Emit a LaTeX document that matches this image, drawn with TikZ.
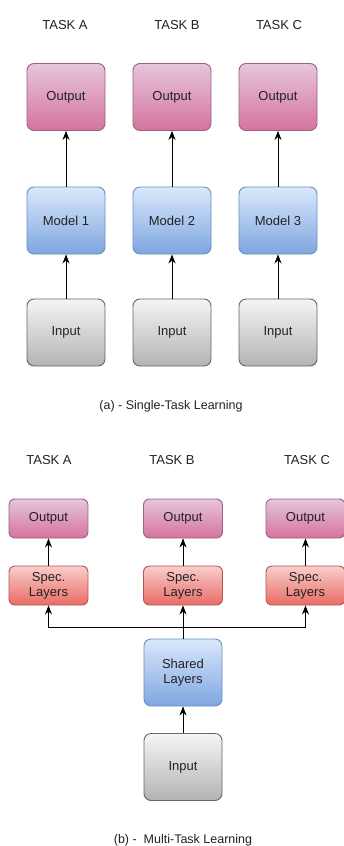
\documentclass[tikz,border=0pt]{standalone}
\usepackage{fontspec}
\setmainfont{Liberation Sans}
\usetikzlibrary{arrows.meta}
\definecolor{outTop}{HTML}{E6C6DA}
\definecolor{outBot}{HTML}{D5739D}
\definecolor{outLine}{HTML}{996185}
\definecolor{modTop}{HTML}{DAE8FC}
\definecolor{modBot}{HTML}{7EA6E0}
\definecolor{modLine}{HTML}{6C8EBF}
\definecolor{inTop}{HTML}{F5F5F5}
\definecolor{inBot}{HTML}{B3B3B3}
\definecolor{inLine}{HTML}{666666}
\definecolor{spTop}{HTML}{F8CECC}
\definecolor{spBot}{HTML}{EA6B66}
\definecolor{spLine}{HTML}{B85450}
\definecolor{txt}{HTML}{222222}
\tikzset{
  box/.style={rectangle, rounded corners=7pt, inner sep=0pt, line width=0.9pt,
    align=center, text=txt, font=\fontsize{13}{15}\selectfont},
  bigbox/.style={box, minimum width=78pt, minimum height=67pt},
  smallbox/.style={box, minimum width=79pt, minimum height=39pt, rounded corners=6pt},
  outbox/.style={draw=outLine, top color=outTop, bottom color=outBot},
  modbox/.style={draw=modLine, top color=modTop, bottom color=modBot},
  inbox/.style={draw=inLine, top color=inTop, bottom color=inBot},
  spbox/.style={draw=spLine, top color=spTop, bottom color=spBot},
  lbl/.style={text=txt, font=\fontsize{13}{15}\selectfont, inner sep=0pt},
  captext/.style={text=txt, font=\fontsize{12.5}{14}\selectfont, inner sep=0pt},
  arr/.style={line width=0.9pt, -{Stealth[length=9pt,width=7pt]}}
}
\begin{document}
\begin{tikzpicture}[x=1pt,y=-1pt]
\useasboundingbox (0,0) rectangle (344,846);
\fill[white] (0,0) rectangle (344,846);
% ---- (a) single-task ----
\node[lbl] (ta) at (65,25) {TASK A};
\node[lbl] (tb) at (177,25) {TASK B};
\node[lbl] (tc) at (279,25) {TASK C};
\node[bigbox,outbox] (oa) at (66,97) {Output};
\node[bigbox,outbox] (ob) at (172,97) {Output};
\node[bigbox,outbox] (oc) at (278,97) {Output};
\node[bigbox,modbox] (ma) at (66,220.5) {Model 1};
\node[bigbox,modbox] (mb) at (172,220.5) {Model 2};
\node[bigbox,modbox] (mc) at (278,220.5) {Model 3};
\node[bigbox,inbox] (ia) at (66,332.5) {Input};
\node[bigbox,inbox] (ib) at (172,332.5) {Input};
\node[bigbox,inbox] (ic) at (278,332.5) {Input};
\foreach \c in {a,b,c}{
  \draw[arr] (m\c.north) -- (o\c.south);
  \draw[arr] (i\c.north) -- (m\c.south);
}
\node[captext] (capa) at (171,406) {(a) - Single-Task Learning};
% ---- (b) multi-task ----
\node[lbl] (tA) at (49,460) {TASK A};
\node[lbl] (tB) at (172,460) {TASK B};
\node[lbl] (tC) at (307,460) {TASK C};
\node[smallbox,outbox] (OA) at (48.5,518.5) {Output};
\node[smallbox,outbox] (OB) at (183,518.5) {Output};
\node[smallbox,outbox] (OC) at (305.5,518.5) {Output};
\node[smallbox,spbox] (SA) at (48.5,585.5) {Spec.\\Layers};
\node[smallbox,spbox] (SB) at (183,585.5) {Spec.\\Layers};
\node[smallbox,spbox] (SC) at (305.5,585.5) {Spec.\\Layers};
\foreach \c in {A,B,C}{
  \draw[arr] (S\c.north) -- (O\c.south);
}
\node[bigbox,modbox] (SH) at (183,672.5) {Shared\\Layers};
\node[bigbox,inbox] (IN) at (183,767) {Input};
\coordinate (J) at (183,627);
\draw[arr] (SH.north) -- (SB.south);
\draw[arr] (J) -| (SA.south);
\draw[arr] (J) -| (SC.south);
\draw[arr] (IN.north) -- (SH.south);
\node[captext] (capb) at (183,840) {(b) -\ \ Multi-Task Learning};
\end{tikzpicture}
\end{document}
